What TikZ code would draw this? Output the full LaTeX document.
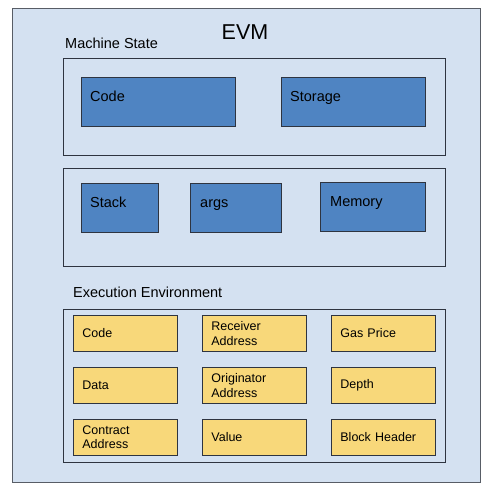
\documentclass[tikz,border=0pt]{standalone}
\usepackage{fontspec}
\setmainfont{Liberation Sans}
\definecolor{paleblue}{HTML}{D4E1F1}
\definecolor{boxblue}{HTML}{4F84C2}
\definecolor{cellyellow}{HTML}{F8D87A}
\definecolor{edge}{HTML}{2E3440}
\begin{document}
\begin{tikzpicture}[x=1pt,y=-1pt,
  frame/.style={draw=edge!80, fill=paleblue, line width=0.9pt, rectangle, inner sep=0pt, anchor=north west},
  panel/.style={draw=edge, fill=paleblue, line width=0.8pt, rectangle, inner sep=0pt, anchor=north west},
  bluebox/.style={draw=edge, fill=boxblue, line width=0.8pt, rectangle, inner sep=0pt, anchor=north west},
  cell/.style={draw=edge, fill=cellyellow, line width=0.8pt, rectangle, anchor=north west,
    minimum width=104pt, minimum height=36pt, text width=86pt, inner xsep=9pt, inner ysep=0pt,
    align=left, font=\fontsize{12.5}{14.5}\selectfont},
  bluetext/.style={anchor=base west, inner sep=0pt, font=\fontsize{14.5}{17}\selectfont},
  heading/.style={anchor=base west, inner sep=0pt, font=\fontsize{14.5}{17}\selectfont}
]
\useasboundingbox (0,0) rectangle (496,490);
\node[frame, minimum width=468pt, minimum height=474pt] (evm) at (12,8) {};
\node[anchor=base, inner sep=0pt, font=\fontsize{21.5}{24}\selectfont] (evmtitle) at (245,39) {EVM};
\node[heading] (mslabel) at (65,48) {Machine State};
\node[panel, minimum width=382pt, minimum height=97.5pt] (ms1) at (63,57.5) {};
\node[panel, minimum width=382pt, minimum height=98pt] (ms2) at (63,168) {};
\node[bluebox, minimum width=154pt, minimum height=49pt] (code) at (81,77) {};
\node[bluebox, minimum width=144pt, minimum height=49pt] (storage) at (281,77) {};
\node[bluebox, minimum width=77pt, minimum height=49pt] (stack) at (81,183) {};
\node[bluebox, minimum width=91pt, minimum height=49pt] (args) at (190,183) {};
\node[bluebox, minimum width=105pt, minimum height=49pt] (memory) at (320,182) {};
\node[bluetext] (codet) at ([xshift=9pt,yshift=-24.5pt]code.north west) {Code};
\node[bluetext] (storaget) at ([xshift=9pt,yshift=-24.5pt]storage.north west) {Storage};
\node[bluetext] (stackt) at ([xshift=9pt,yshift=-24pt]stack.north west) {Stack};
\node[bluetext] (argst) at ([xshift=10pt,yshift=-24pt]args.north west) {args};
\node[bluetext] (memoryt) at ([xshift=10pt,yshift=-24pt]memory.north west) {Memory};
\node[heading] (eelabel) at (73,297.5) {Execution Environment};
\node[panel, minimum width=382pt, minimum height=153.5pt] (ee) at (63,308.5) {};
\node[cell] (c11) at (73,315) {Code};
\node[cell] (c12) at (202,315) {Receiver\\Address};
\node[cell] (c13) at (331,315) {Gas Price};
\node[cell] (c21) at (73,367) {Data};
\node[cell] (c22) at (202,367) {Originator\\Address};
\node[cell] (c23) at (331,367) {Depth};
\node[cell] (c31) at (73,419) {Contract\\Address};
\node[cell] (c32) at (202,419) {Value};
\node[cell] (c33) at (331,419) {Block Header};
\end{tikzpicture}
\end{document}
